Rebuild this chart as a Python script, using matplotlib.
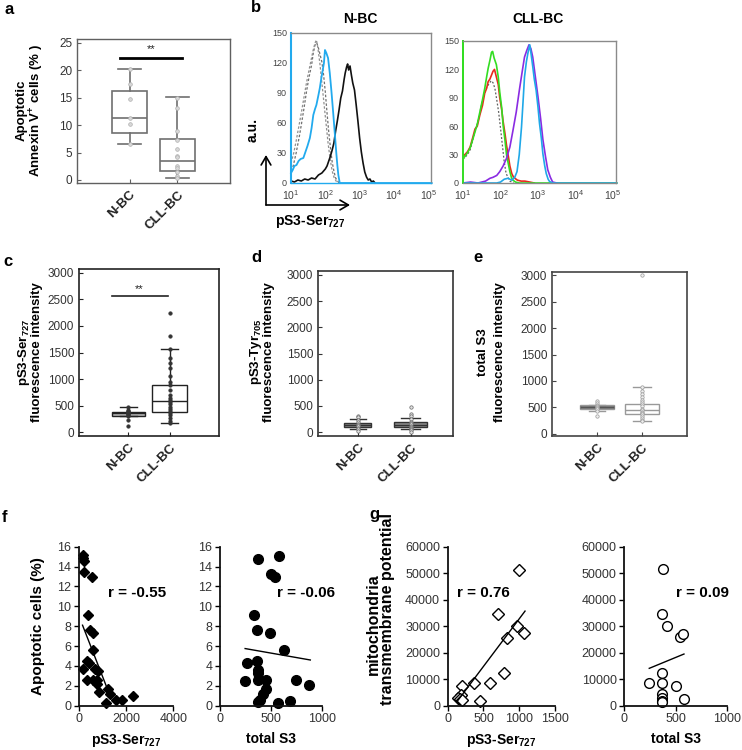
import numpy as np
import matplotlib
matplotlib.use("Agg")
import matplotlib.pyplot as plt
from matplotlib.patches import FancyArrowPatch

plt.rcParams['font.family'] = ['Liberation Sans', 'DejaVu Sans']
plt.rcParams['mathtext.fontset'] = 'custom'
plt.rcParams['mathtext.rm'] = 'Liberation Sans'
plt.rcParams['mathtext.bf'] = 'Liberation Sans:bold'
plt.rcParams['mathtext.it'] = 'Liberation Sans:italic'
plt.rcParams['mathtext.sf'] = 'Liberation Sans'

# ---------------- DATA ----------------
groups = ['N-BC', 'CLL-BC']

# panel a : apoptotic annexin V+ cells (%)
a_whislo = [6.5, 0.3]
a_q1 = [8.5, 1.6]
a_med = [11.3, 3.5]
a_q3 = [16.2, 7.4]
a_whishi = [20.3, 15.1]
a_pts_nbc = [20.3, 17.5, 14.8, 11.3, 10.2, 6.5]
a_pts_cll = [15.0, 13.1, 9.0, 7.2, 5.6, 4.4, 4.1, 2.6, 2.2, 1.5, 0.8, 0.3]

# panel c : pS3-Ser727 fluorescence intensity
c_whislo = [302, 164]
c_q1 = [302, 383]
c_med = [352, 591]
c_q3 = [383, 887]
c_whishi = [466, 1560]
c_pts_nbc = [466, 420, 400, 383, 370, 360, 352, 340, 320, 302, 226, 119]
c_pts_cll = [2251, 1811, 1560, 1400, 1300, 1200, 1050, 950, 880, 800, 700,
             650, 600, 560, 520, 480, 440, 400, 360, 320, 260, 200, 164]

# panel d : pS3-Tyr705 fluorescence intensity
d_whislo = [50, 50]
d_q1 = [90, 95]
d_med = [125, 135]
d_q3 = [175, 185]
d_whishi = [250, 260]
d_pts_nbc = [310, 280, 230, 200, 160, 130, 110, 80, 60, 20]
d_pts_cll = [470, 340, 300, 240, 200, 170, 150, 120, 100, 80, 60, 30, 0]

# panel e : total S3 fluorescence intensity
e_whislo = [425, 250]
e_q1 = [480, 375]
e_med = [505, 456]
e_q3 = [540, 568]
e_whishi = [545, 894]
e_pts_nbc = [620, 580, 550, 520, 500, 490, 470, 425, 344]
e_pts_cll = [3000, 894, 820, 760, 700, 650, 600, 560, 520, 480, 450, 420,
             400, 370, 340, 300, 270, 250]

# panel b : flow histograms (log10 fluorescence, counts a.u.)
nbc_black_x = [1.00, 1.10, 1.20, 1.30, 1.40, 1.50, 1.60, 1.70, 1.80, 1.90, 2.00, 2.05, 2.10, 2.15,
               2.20, 2.25, 2.30, 2.35, 2.40, 2.45, 2.50, 2.55, 2.58, 2.62, 2.65, 2.68, 2.72, 2.76,
               2.80, 2.85, 2.90, 2.95, 3.00, 3.05, 3.10, 3.15, 3.20, 3.25, 3.30, 3.35, 3.40, 3.45]
nbc_black_y = [2, 1, 3, 2, 4, 3, 5, 4, 8, 10, 14, 17, 22, 27, 33, 40, 52, 62, 73, 85, 92, 104,
               110, 116, 119, 113, 117, 108, 100, 93, 78, 62, 45, 31, 20, 11, 6, 3, 4, 1, 2, 0]
nbc_cyan_x = [1.00, 1.05, 1.10, 1.16, 1.22, 1.28, 1.36, 1.42, 1.48, 1.55, 1.60, 1.65, 1.70, 1.74,
              1.80, 1.84, 1.88, 1.92, 1.96, 1.99, 2.03, 2.08, 2.13, 2.18, 2.23, 2.28, 2.32, 2.35,
              2.38, 2.42, 5.10]
nbc_cyan_y = [10, 13, 17, 18, 22, 24, 25, 31, 37, 45, 55, 68, 74, 78, 88, 95, 104, 112, 120, 133,
              130, 125, 110, 91, 70, 48, 30, 18, 8, 0, 0]
nbc_iso1_x = [1.00, 1.05, 1.15, 1.25, 1.30, 1.38, 1.45, 1.52, 1.60, 1.65, 1.70, 1.75, 1.80, 1.85,
              1.90, 1.95, 2.00, 2.05, 2.10, 2.15, 2.20, 2.25, 2.30, 2.40]
nbc_iso1_y = [12, 15, 30, 48, 58, 75, 91, 105, 118, 130, 138, 140, 135, 128, 121, 108, 91, 70, 51,
              35, 21, 12, 5, 0]
nbc_iso2_x = [1.00, 1.08, 1.15, 1.22, 1.30, 1.38, 1.45, 1.52, 1.58, 1.64, 1.70, 1.74, 1.78, 1.84,
              1.90, 1.96, 2.02, 2.08, 2.14, 2.20, 2.26, 2.35]
nbc_iso2_y = [20, 30, 42, 55, 70, 86, 100, 112, 122, 132, 140, 143, 136, 120, 100, 80, 60, 40, 24,
              12, 5, 0]

cll_green_x = [1.00, 1.003, 1.05, 1.12, 1.19, 1.26, 1.32, 1.38, 1.45, 1.52, 1.58, 1.63, 1.67, 1.72,
               1.76, 1.79, 1.83, 1.89, 1.94, 1.98, 2.03, 2.07, 2.12, 2.16, 2.21, 2.25, 2.29, 2.33,
               2.40, 2.50, 5.10]
cll_green_y = [150, 26, 28, 32, 37, 46, 54, 62, 75, 88, 100, 112, 121, 130, 138, 139, 132, 125, 112,
               96, 80, 61, 45, 30, 20, 12, 6, 3, 1, 0, 0]
cll_red_x = [1.00, 1.05, 1.12, 1.19, 1.26, 1.32, 1.38, 1.45, 1.52, 1.58, 1.63, 1.67, 1.72, 1.76,
             1.80, 1.84, 1.89, 1.94, 1.98, 2.03, 2.07, 2.12, 2.16, 2.21, 2.25, 2.30, 2.35, 2.45,
             2.55, 2.65, 2.78, 2.90]
cll_red_y = [28, 30, 33, 38, 48, 57, 60, 72, 82, 95, 100, 107, 110, 114, 118, 120, 112, 104, 90, 78,
             65, 52, 40, 28, 18, 10, 6, 3, 2, 2, 1, 0]
cll_iso_x = [1.00, 1.05, 1.12, 1.19, 1.26, 1.32, 1.40, 1.48, 1.55, 1.62, 1.68, 1.75, 1.80, 1.85,
             1.90, 1.95, 2.00, 2.05, 2.10, 2.15, 2.25, 2.35]
cll_iso_y = [25, 27, 30, 35, 45, 55, 65, 80, 92, 100, 104, 108, 106, 100, 88, 75, 58, 40, 22, 10, 2, 0]
cll_purple_x = [1.00, 1.20, 1.40, 1.60, 1.72, 1.80, 1.90, 1.98, 2.07, 2.16, 2.25, 2.33, 2.42, 2.51,
                2.58, 2.64, 2.70, 2.76, 2.81, 2.86, 2.93, 3.00, 3.07, 3.13, 3.20, 3.26, 3.33, 3.39,
                3.50]
cll_purple_y = [0, 1, 0, 2, 5, 6, 8, 12, 18, 26, 38, 55, 75, 100, 118, 133, 140, 146, 142, 133, 112,
                91, 68, 46, 28, 14, 6, 1, 0]
cll_cyan_x = [1.00, 1.90, 2.00, 2.10, 2.20, 2.30, 2.38, 2.44, 2.50, 2.56, 2.60, 2.64, 2.69, 2.73,
              2.78, 2.82, 2.86, 2.90, 2.95, 3.00, 3.04, 3.09, 3.13, 3.18, 3.22, 3.27, 3.31, 3.40,
              5.10]
cll_cyan_y = [0, 0, 1, 4, 5, 3, 6, 12, 30, 59, 85, 112, 128, 137, 146, 135, 123, 110, 98, 80, 63,
              47, 31, 18, 10, 4, 1.5, 0, 0]

# panel f : apoptotic cells (%) vs pS3-Ser727 and vs total S3
f1_x = [155, 184, 226, 212, 551, 396, 466, 580, 580, 184, 353, 438, 325, 608, 777, 678, 820,
        749, 862, 1145, 1215, 1314, 1569, 1809, 2275]
f1_y = [15.2, 14.9, 14.6, 13.5, 13.0, 9.1, 7.6, 7.3, 5.6, 3.7, 4.5, 4.3, 2.6, 2.6, 2.6, 3.7, 3.5,
        2.2, 1.4, 0.3, 1.7, 1.2, 0.55, 0.55, 0.95]
f1_fit_x = [150, 1350]
f1_fit_y = [8.1, 0.8]
f2_x = [370, 585, 505, 540, 330, 365, 490, 625, 270, 365, 370, 375, 250, 370, 455, 450, 420, 390,
        370, 570, 690, 750, 880]
f2_y = [14.8, 15.1, 13.3, 13.0, 9.1, 7.6, 7.3, 5.6, 4.3, 4.5, 3.6, 3.3, 2.5, 2.6, 2.6, 1.7, 1.2,
        0.6, 0.4, 0.3, 0.5, 2.6, 2.1]
f2_fit_x = [247, 888]
f2_fit_y = [5.75, 4.6]

# panel g : mitochondria transmembrane potential vs pS3-Ser727 and vs total S3
g1_x = [1002, 708, 974, 1067, 825, 792, 592, 373, 205, 182, 149, 172, 452, 196]
g1_y = [51200, 34500, 30200, 27300, 25600, 12400, 8700, 8700, 7400, 4000, 2800, 2500, 1760, 2100]
g1_fit_x = [140, 1081]
g1_fit_y = [1900, 35700]
g2_x = [372, 365, 412, 542, 575, 365, 243, 365, 500, 365, 365, 365, 581, 365]
g2_y = [51450, 34470, 30190, 25790, 27050, 12450, 8430, 8430, 7550, 4280, 2770, 1890, 2516, 1260]
g2_fit_x = [243, 581]
g2_fit_y = [14100, 19500]

# ---------------- FIGURE ----------------
W, H = 742, 750
fig = plt.figure(figsize=(W / 100, H / 100), dpi=100)


def axpx(l, t, r, b):
    return fig.add_axes([l / W, 1 - b / H, (r - l) / W, (b - t) / H])


def ftext(x, y, s, **kw):
    fig.text(x / W, 1 - y / H, s, **kw)


def box_panel(ax, whislo, q1, med, q3, whishi, pts, widths, capw, color, lw, fcs,
              pt_kw, xlim, ylim, spine_color, spine_lw):
    stats = [dict(whislo=whislo[i], q1=q1[i], med=med[i], q3=q3[i], whishi=whishi[i], fliers=[])
             for i in range(len(groups))]
    art = ax.bxp(stats, positions=[1, 2], widths=widths, capwidths=capw, showfliers=False,
                 patch_artist=True,
                 boxprops=dict(facecolor='white', edgecolor=color, linewidth=lw),
                 whiskerprops=dict(color=color, linewidth=lw),
                 capprops=dict(color=color, linewidth=lw),
                 medianprops=dict(color=color, linewidth=lw))
    for b, fc in zip(art['boxes'], fcs):
        b.set_facecolor(fc)
    for i, p in enumerate(pts):
        ax.scatter(np.full(len(p), i + 1), p, zorder=3, clip_on=False, **pt_kw)
    ax.set_xlim(*xlim)
    ax.set_ylim(*ylim)
    ax.set_xticks([1, 2])
    ax.set_xticklabels(groups, rotation=45, ha='right', rotation_mode='anchor',
                       fontsize=9.5, fontweight='bold', color='#222222')
    ax.tick_params(axis='both', direction='in', length=3, width=0.8, colors=spine_color,
                   labelsize=8.5, labelcolor='#333333')
    ax.tick_params(axis='x', labelcolor='#222222', labelsize=9.5, pad=4)
    for s in ax.spines.values():
        s.set_color(spine_color)
        s.set_linewidth(spine_lw)
    return art


# ---- panel a
ax_a = axpx(77, 39, 230, 183)
box_panel(ax_a, a_whislo, a_q1, a_med, a_q3, a_whishi, [a_pts_nbc, a_pts_cll],
          widths=0.73, capw=0.48, color='#707070', lw=1.2, fcs=['white', 'white'],
          pt_kw=dict(s=7, facecolor='#d8d8d8', edgecolor='#b0b0b0', linewidths=0.5),
          xlim=(-0.1, 3.1), ylim=(-0.55, 25.7), spine_color='#606060', spine_lw=1.0)
ax_a.set_yticks([0, 5, 10, 15, 20, 25])
ax_a.plot([0.8, 2.1], [22.2, 22.2], color='black', lw=2)
ax_a.text(1.45, 22.9, '**', ha='center', va='bottom', fontsize=8, color='#222222')
ftext(22, 110, 'Apoptotic', rotation=90, ha='center', va='center', fontsize=9.5, fontweight='bold')
ftext(37, 110, 'Annexin V$^{\\mathbf{+}}$ cells (% )', rotation=90, ha='center', va='center',
      fontsize=9.5, fontweight='bold')

# ---- panel c
ax_c = axpx(79, 269, 219, 436)
box_panel(ax_c, c_whislo, c_q1, c_med, c_q3, c_whishi, [c_pts_nbc, c_pts_cll],
          widths=[0.8, 0.84], capw=[0.41, 0.42], color='#222222', lw=1.0,
          fcs=['#b8b8b8', 'white'],
          pt_kw=dict(s=7, facecolor='#333333', edgecolor='#333333', linewidths=0.3),
          xlim=(-0.2, 3.2), ylim=(-75, 3075), spine_color='#222222', spine_lw=1.2)
ax_c.set_yticks([0, 500, 1000, 1500, 2000, 2500, 3000])
ax_c.plot([0.6, 1.95], [2560, 2560], color='#222222', lw=1.2)
ax_c.text(1.27, 2610, '**', ha='center', va='bottom', fontsize=8, color='#222222')
ftext(24, 352, 'pS3-Ser$_{\\mathbf{727}}$', rotation=90, ha='center', va='center', fontsize=9.5,
      fontweight='bold')
ftext(37, 352, 'fluorescence intensity', rotation=90, ha='center', va='center', fontsize=9.5,
      fontweight='bold')

# ---- panel d
ax_d = axpx(318, 271, 453, 436)
box_panel(ax_d, d_whislo, d_q1, d_med, d_q3, d_whishi, [d_pts_nbc, d_pts_cll],
          widths=[0.5, 0.63], capw=[0.3, 0.35], color='#333333', lw=1.0,
          fcs=['#8a8a8a', '#8a8a8a'],
          pt_kw=dict(s=6, facecolor='#e0e0e0', edgecolor='#666666', linewidths=0.5),
          xlim=(0.25, 2.8), ylim=(-76, 3076), spine_color='#333333', spine_lw=1.2)
ax_d.set_yticks([0, 500, 1000, 1500, 2000, 2500, 3000])
ftext(256, 352, 'pS3-Tyr$_{\\mathbf{705}}$', rotation=90, ha='center', va='center', fontsize=9.5,
      fontweight='bold')
ftext(269, 352, 'fluorescence intensity', rotation=90, ha='center', va='center', fontsize=9.5,
      fontweight='bold')

# ---- panel e
ax_e = axpx(552, 272, 687, 436)
art_e = box_panel(ax_e, e_whislo, e_q1, e_med, e_q3, e_whishi, [e_pts_nbc, e_pts_cll],
                  widths=[0.74, 0.75], capw=[0.37, 0.38], color='#999999', lw=1.0,
                  fcs=['white', 'white'],
                  pt_kw=dict(s=6, facecolor='#eeeeee', edgecolor='#999999', linewidths=0.5),
                  xlim=(0, 3), ylim=(-38, 3057), spine_color='#444444', spine_lw=1.2)
ax_e.set_yticks([0, 500, 1000, 1500, 2000, 2500, 3000])
art_e['medians'][0].set_linewidth(1.8)
art_e['medians'][0].set_color('#555555')
ftext(483, 352, 'total S3', rotation=90, ha='center', va='center', fontsize=9.5,
      fontweight='bold')
ftext(500, 352, 'fluorescence intensity', rotation=90, ha='center', va='center', fontsize=9.5,
      fontweight='bold')

# ---- panel b (histograms)
dec_labels = ['$10^{1}$', '$10^{2}$', '$10^{3}$', '$10^{4}$', '$10^{5}$']


def hist_axes(ax):
    ax.set_xscale('log')
    ax.set_xlim(10, 10 ** 5.08)
    ax.set_ylim(0, 150)
    ax.set_yticks([0, 30, 60, 90, 120, 150])
    ax.set_xticks([1e1, 1e2, 1e3, 1e4, 1e5])
    ax.set_xticklabels(dec_labels)
    ax.minorticks_off()
    ax.tick_params(axis='both', length=0, labelsize=6.5, labelcolor='#444444', pad=3)
    ax.tick_params(axis='x', labelsize=7.5, pad=4)
    for s in ax.spines.values():
        s.set_color('#8a8a8a')
        s.set_linewidth(1.0)


ax_b1 = axpx(291, 33, 431, 183)
hist_axes(ax_b1)
ax_b1.plot(10 ** np.array(nbc_iso1_x), nbc_iso1_y, color='#707070', lw=0.9, ls=(0, (2, 1.5)))
ax_b1.plot(10 ** np.array(nbc_iso2_x), nbc_iso2_y, color='#909090', lw=0.9, ls=(0, (2, 1.5)))
ax_b1.plot(10 ** np.array(nbc_black_x), nbc_black_y, color='#111111', lw=1.2, clip_on=False)
ax_b1.plot(10 ** np.array(nbc_cyan_x), nbc_cyan_y, color='#22aaee', lw=1.3, clip_on=False)
ax_b1.spines['left'].set_color('#22aaee')
ax_b1.spines['left'].set_linewidth(1.5)
ax_b1.spines['bottom'].set_color('#22aaee')

ax_b2 = axpx(463, 41, 616, 183)
hist_axes(ax_b2)
ax_b2.plot(10 ** np.array(cll_iso_x), cll_iso_y, color='#606060', lw=0.9, ls=(0, (1.5, 1.5)))
ax_b2.plot(10 ** np.array(cll_red_x), cll_red_y, color='#e82a1c', lw=1.2)
ax_b2.plot(10 ** np.array(cll_green_x), cll_green_y, color='#33dd22', lw=1.2, clip_on=False)
ax_b2.plot(10 ** np.array(cll_purple_x), cll_purple_y, color='#8a2be2', lw=1.2, clip_on=False)
ax_b2.plot(10 ** np.array(cll_cyan_x), cll_cyan_y, color='#1fa8e8', lw=1.2, clip_on=False)
ax_b2.spines['left'].set_color('#33dd22')
ax_b2.spines['left'].set_linewidth(1.4)

ftext(360, 19, 'N-BC', ha='center', va='center', fontsize=10, fontweight='bold')
ftext(538, 19, 'CLL-BC', ha='center', va='center', fontsize=10, fontweight='bold')
fig.add_artist(FancyArrowPatch((266 / W, 1 - 205 / H), (266 / W, 1 - 155 / H),
                               transform=fig.transFigure,
                               arrowstyle='->,head_length=6,head_width=3.5',
                               color='black', lw=1.2, shrinkA=0, shrinkB=0))
fig.add_artist(FancyArrowPatch((266 / W, 1 - 205 / H), (350 / W, 1 - 205 / H),
                               transform=fig.transFigure,
                               arrowstyle='->,head_length=6,head_width=3.5',
                               color='black', lw=1.2, shrinkA=0, shrinkB=0))
ftext(253, 130, 'a.u.', rotation=90, ha='center', va='center', fontsize=10, fontweight='bold')
ftext(310, 221, 'pS3-Ser$_{\\mathbf{727}}$', ha='center', va='center', fontsize=10,
      fontweight='bold')


# ---- panels f, g (scatter)
def scatter_axes(ax, xlim, xticks, ylim, yticks):
    ax.set_xlim(*xlim)
    ax.set_ylim(*ylim)
    ax.set_xticks(xticks)
    ax.set_yticks(yticks)
    ax.spines['top'].set_visible(False)
    ax.spines['right'].set_visible(False)
    for s in ('left', 'bottom'):
        ax.spines[s].set_linewidth(1.3)
        ax.spines[s].set_color('#111111')
    ax.tick_params(axis='both', direction='out', length=3.5, width=1.0, labelsize=9,
                   labelcolor='#333333', pad=2)


XL_PAD = 4.5

ax_f1 = axpx(79, 546.7, 173.3, 705.7)
scatter_axes(ax_f1, (0, 4000), [0, 2000, 4000], (0, 16), list(range(0, 17, 2)))
ax_f1.plot(f1_x, f1_y, ls='none', marker='D', ms=5.4, color='black', clip_on=False)
ax_f1.plot(f1_fit_x, f1_fit_y, color='black', lw=1.0)
ax_f1.text(2460, 11.3, 'r = -0.55', ha='center', va='center', fontsize=11, fontweight='bold')
ax_f1.set_xlabel('pS3-Ser$_{\\mathbf{727}}$', fontsize=10, fontweight='bold', labelpad=XL_PAD)

ax_f2 = axpx(220, 546.7, 321.7, 705.7)
scatter_axes(ax_f2, (0, 1000), [0, 500, 1000], (0, 16), list(range(0, 17, 2)))
ax_f2.plot(f2_x, f2_y, ls='none', marker='o', ms=7, color='black', clip_on=False)
ax_f2.plot(f2_fit_x, f2_fit_y, color='black', lw=1.0)
ax_f2.text(846, 11.3, 'r = -0.06', ha='center', va='center', fontsize=11, fontweight='bold')
ax_f2.set_xlabel('total S3', fontsize=10, fontweight='bold', labelpad=XL_PAD)
ftext(38, 626, 'Apoptotic cells (%)', rotation=90, ha='center', va='center', fontsize=11,
      fontweight='bold')

ax_g1 = axpx(447.7, 546.7, 555, 705.7)
scatter_axes(ax_g1, (0, 1500), [0, 500, 1000, 1500], (0, 60000), list(range(0, 60001, 10000)))
ax_g1.plot(g1_x, g1_y, ls='none', marker='D', ms=6.5, mfc='white', mec='black', mew=1.0,
           clip_on=False)
ax_g1.plot(g1_fit_x, g1_fit_y, color='black', lw=1.0)
ax_g1.text(494, 42500, 'r = 0.76', ha='center', va='center', fontsize=11, fontweight='bold')
ax_g1.set_xlabel('pS3-Ser$_{\\mathbf{727}}$', fontsize=10, fontweight='bold', labelpad=XL_PAD)

ax_g2 = axpx(624.3, 546.7, 727, 705.7)
scatter_axes(ax_g2, (0, 1000), [0, 500, 1000], (0, 60000), list(range(0, 60001, 10000)))
ax_g2.plot(g2_x, g2_y, ls='none', marker='o', ms=7, mfc='white', mec='black', mew=1.0,
           clip_on=False)
ax_g2.plot(g2_fit_x, g2_fit_y, color='black', lw=1.0)
ax_g2.text(766, 42500, 'r = 0.09', ha='center', va='center', fontsize=11, fontweight='bold')
ax_g2.set_xlabel('total S3', fontsize=10, fontweight='bold', labelpad=XL_PAD)
ftext(373, 624, 'mitochondria', rotation=90, ha='center', va='center', fontsize=11.5,
      fontweight='bold')
ftext(387, 609, 'transmembrane potential', rotation=90, ha='center', va='center', fontsize=11.5,
      fontweight='bold')

# ---- panel letters
for lt, x, y in [('a', 9, 9), ('b', 256, 8), ('c', 8, 261), ('d', 256, 258), ('e', 478, 258),
                 ('f', 5, 517), ('g', 374, 514)]:
    ftext(x, y, lt, ha='center', va='center', fontsize=12, fontweight='bold')

fig.savefig('out.png', dpi=100)
